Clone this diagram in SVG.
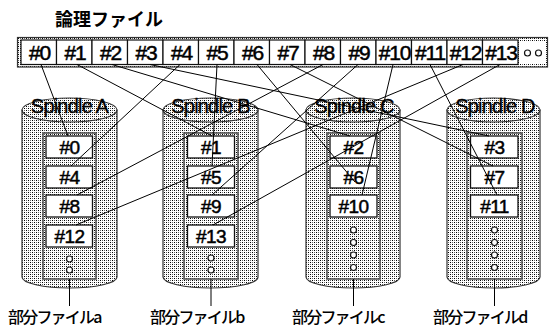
<svg xmlns="http://www.w3.org/2000/svg" width="557" height="327" viewBox="0 0 557 327">
<defs>
<pattern id="dots" width="4" height="4" patternUnits="userSpaceOnUse">
<rect width="4" height="4" fill="#fff"/>
<rect x="0" y="0" width="1" height="1" fill="#000"/>
<rect x="2" y="2" width="1" height="1" fill="#000"/>
<rect x="2" y="0" width="1" height="1" fill="#666"/>
<rect x="0" y="2" width="1" height="1" fill="#666"/>
</pattern>
<style>
.cyl{fill:url(#dots);stroke:#333;stroke-width:1.2}
.inner{fill:url(#dots);stroke:#555;stroke-width:1.6}
.box{fill:#fff;stroke:#111;stroke-width:1.3}
.cell{fill:#fff;stroke:#111;stroke-width:1.2}
.dot{fill:#fff;stroke:#111;stroke-width:1.2}
.ct{font-family:"Liberation Sans",Arial,sans-serif;font-size:21px;letter-spacing:-1.2px;text-anchor:middle;fill:#000;stroke:#000;stroke-width:0.5}
.bt{font-family:"Liberation Sans",Arial,sans-serif;font-size:19px;letter-spacing:-0.6px;text-anchor:middle;fill:#000;stroke:#000;stroke-width:0.5}
.sp{font-family:"Liberation Sans",Arial,sans-serif;font-size:20px;letter-spacing:-0.8px;text-anchor:middle;fill:#000;stroke:#000;stroke-width:0.3}
.jp{font-family:"Noto Sans CJK JP",sans-serif;fill:#000}
.lb{font-size:16px;font-weight:500;letter-spacing:-1.8px}
.ln{stroke:#000;stroke-width:1;fill:none}
</style>
</defs>
<rect width="557" height="327" fill="#fff"/>

<g id="title"><text class="jp" x="55" y="26" font-size="18" font-weight="bold">論理ファイル</text></g>

<g id="logical-file">
<rect x="17.5" y="37.5" width="530" height="29.5" fill="url(#dots)" stroke="#333" stroke-width="1.2"/>
<rect class="cell" x="21" y="40" width="35.5" height="24.5"/><text class="ct" x="39.5" y="60">#0</text>
<rect class="cell" x="56.5" y="40" width="35.5" height="24.5"/><text class="ct" x="75" y="60">#1</text>
<rect class="cell" x="92" y="40" width="35.5" height="24.5"/><text class="ct" x="110.5" y="60">#2</text>
<rect class="cell" x="127.5" y="40" width="35.5" height="24.5"/><text class="ct" x="146" y="60">#3</text>
<rect class="cell" x="163" y="40" width="35.5" height="24.5"/><text class="ct" x="181.5" y="60">#4</text>
<rect class="cell" x="198.5" y="40" width="35.5" height="24.5"/><text class="ct" x="217" y="60">#5</text>
<rect class="cell" x="234" y="40" width="35.5" height="24.5"/><text class="ct" x="252.5" y="60">#6</text>
<rect class="cell" x="269.5" y="40" width="35.5" height="24.5"/><text class="ct" x="288" y="60">#7</text>
<rect class="cell" x="305" y="40" width="35.5" height="24.5"/><text class="ct" x="323.5" y="60">#8</text>
<rect class="cell" x="340.5" y="40" width="35.5" height="24.5"/><text class="ct" x="359" y="60">#9</text>
<rect class="cell" x="376" y="40" width="35.5" height="24.5"/><text class="ct" x="394.5" y="60">#10</text>
<rect class="cell" x="411.5" y="40" width="35.5" height="24.5"/><text class="ct" x="430" y="60">#11</text>
<rect class="cell" x="447" y="40" width="35.5" height="24.5"/><text class="ct" x="465.5" y="60">#12</text>
<rect class="cell" x="482.5" y="40" width="35.5" height="24.5"/><text class="ct" x="501" y="60">#13</text>
<rect x="519.5" y="41" width="26" height="23" fill="#fff"/>
<circle class="dot" cx="527.5" cy="53" r="3"/>
<circle class="dot" cx="538.5" cy="53" r="3"/>
</g>

<g id="spindle-a">
<path class="cyl" d="M22,110 L22,277 A47.5,11 0 0 0 117,277 L117,110 Z"/>
<ellipse class="cyl" cx="69.5" cy="110" rx="47.5" ry="12"/>
<text class="sp" x="69.5" y="113">Spindle A</text>
<rect class="inner" x="43" y="133" width="53" height="146"/>
<rect class="box" x="46" y="136" width="46.5" height="22"/><text class="bt" x="69.5" y="153.5">#0</text>
<rect class="box" x="46" y="166" width="46.5" height="22"/><text class="bt" x="69.5" y="183.5">#4</text>
<rect class="box" x="46" y="195" width="46.5" height="22"/><text class="bt" x="69.5" y="212.5">#8</text>
<rect class="box" x="46" y="225" width="46.5" height="22"/><text class="bt" x="69.5" y="242.5">#12</text>
<circle class="dot" cx="69.5" cy="259" r="3"/>
<circle class="dot" cx="69.5" cy="270" r="3"/>
</g>

<g id="spindle-b">
<path class="cyl" d="M163,110 L163,277 A47.5,11 0 0 0 258,277 L258,110 Z"/>
<ellipse class="cyl" cx="210.5" cy="110" rx="47.5" ry="12"/>
<text class="sp" x="210.5" y="113">Spindle B</text>
<rect class="inner" x="184" y="133" width="54" height="146"/>
<rect class="box" x="187.5" y="136" width="47" height="22"/><text class="bt" x="211" y="153.5">#1</text>
<rect class="box" x="187.5" y="166" width="47" height="22"/><text class="bt" x="211" y="183.5">#5</text>
<rect class="box" x="187.5" y="195" width="47" height="22"/><text class="bt" x="211" y="212.5">#9</text>
<rect class="box" x="187.5" y="225" width="47" height="22"/><text class="bt" x="211" y="242.5">#13</text>
<circle class="dot" cx="211" cy="258" r="3"/>
<circle class="dot" cx="211" cy="270" r="3"/>
</g>

<g id="spindle-c">
<path class="cyl" d="M306,110 L306,277 A47,11 0 0 0 400,277 L400,110 Z"/>
<ellipse class="cyl" cx="353" cy="110" rx="47" ry="12"/>
<text class="sp" x="354" y="113">Spindle C</text>
<rect class="inner" x="327" y="133" width="53" height="146"/>
<rect class="box" x="330" y="136" width="47" height="22"/><text class="bt" x="353.5" y="153.5">#2</text>
<rect class="box" x="330" y="166" width="47" height="22"/><text class="bt" x="353.5" y="183.5">#6</text>
<rect class="box" x="330" y="195" width="47" height="22"/><text class="bt" x="353.5" y="212.5">#10</text>
<circle class="dot" cx="353.5" cy="230" r="3"/>
<circle class="dot" cx="353.5" cy="242.5" r="3"/>
<circle class="dot" cx="353.5" cy="255" r="3"/>
<circle class="dot" cx="353.5" cy="267.5" r="3"/>
</g>

<g id="spindle-d">
<path class="cyl" d="M447,110 L447,277 A46.5,11 0 0 0 540,277 L540,110 Z"/>
<ellipse class="cyl" cx="493.5" cy="110" rx="46.5" ry="12"/>
<text class="sp" x="495" y="113">Spindle D</text>
<rect class="inner" x="467" y="133" width="55" height="146"/>
<rect class="box" x="470.5" y="136" width="47.5" height="22"/><text class="bt" x="494.5" y="153.5">#3</text>
<rect class="box" x="470.5" y="166" width="47.5" height="22"/><text class="bt" x="494.5" y="183.5">#7</text>
<rect class="box" x="470.5" y="195" width="47.5" height="22"/><text class="bt" x="494.5" y="212.5">#11</text>
<circle class="dot" cx="494.5" cy="230" r="3"/>
<circle class="dot" cx="494.5" cy="242.5" r="3"/>
<circle class="dot" cx="494.5" cy="255" r="3"/>
<circle class="dot" cx="494.5" cy="267.5" r="3"/>
</g>

<g id="connectors">
<line class="ln" x1="41" y1="64.5" x2="68" y2="136"/>
<line class="ln" x1="77" y1="64.5" x2="212" y2="136"/>
<line class="ln" x1="112" y1="64.5" x2="350" y2="136"/>
<line class="ln" x1="150" y1="64.5" x2="489" y2="136"/>
<line class="ln" x1="180" y1="64.5" x2="71" y2="166"/>
<line class="ln" x1="217" y1="64.5" x2="212" y2="166"/>
<line class="ln" x1="257" y1="64.5" x2="355" y2="182"/>
<line class="ln" x1="290" y1="64.5" x2="493" y2="166"/>
<line class="ln" x1="323" y1="64.5" x2="77" y2="195"/>
<line class="ln" x1="358" y1="64.5" x2="212" y2="195"/>
<line class="ln" x1="393" y1="64.5" x2="362" y2="195"/>
<line class="ln" x1="430" y1="64.5" x2="497" y2="195"/>
<line class="ln" x1="463" y1="64.5" x2="76" y2="225"/>
<line class="ln" x1="500" y1="64.5" x2="213" y2="225"/>
<line class="ln" x1="69.5" y1="279" x2="69.5" y2="306"/>
<line class="ln" x1="211" y1="279" x2="211" y2="306"/>
<line class="ln" x1="353.5" y1="279" x2="353.5" y2="306"/>
<line class="ln" x1="494.5" y1="279" x2="494.5" y2="306"/>
</g>

<g id="labels">
<text class="jp lb" x="8" y="323">部分ファイルa</text>
<text class="jp lb" x="150" y="323">部分ファイルb</text>
<text class="jp lb" x="292" y="323">部分ファイルc</text>
<text class="jp lb" x="433" y="323">部分ファイルd</text>
</g>
</svg>
